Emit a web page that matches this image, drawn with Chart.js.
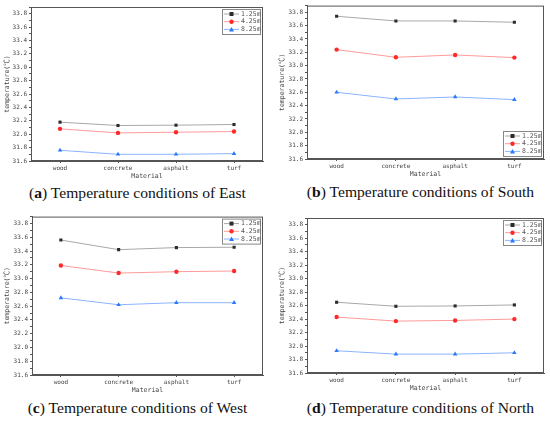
<!DOCTYPE html>
<html>
<head>
<meta charset="utf-8">
<script src="https://cdn.jsdelivr.net/npm/chart.js@4/dist/chart.umd.min.js"></script>
<style>
  body { margin: 0; background: #fff; width: 550px; height: 422px; position: relative; overflow: hidden; }
  canvas { position: absolute; }
  .cap { position: absolute; width: 275px; text-align: center; font-family: "Liberation Serif", serif; font-size: 15.6px; color: #111; white-space: nowrap; }
</style>
</head>
<body>
<canvas id="east" style="left:0;top:0"></canvas>
<canvas id="south" style="left:275px;top:0"></canvas>
<canvas id="west" style="left:0;top:211px"></canvas>
<canvas id="north" style="left:275px;top:211px"></canvas>
<div class="cap" style="left:0;top:184px">(<b>a</b>) Temperature conditions of East</div>
<div class="cap" style="left:283px;top:183px">(<b>b</b>) Temperature conditions of South</div>
<div class="cap" style="left:0;top:399px">(<b>c</b>) Temperature conditions of West</div>
<div class="cap" style="left:283px;top:399px">(<b>d</b>) Temperature conditions of North</div>
<script>
const materials = ["wood", "concrete", "asphalt", "turf"];
const heights = ["1.25m", "4.25m", "8.25m"];

// temperatures (℃), one array per height
const east125 = [32.18, 32.13, 32.135, 32.145];
const east425 = [32.08, 32.02, 32.03, 32.04];
const east825 = [31.76, 31.70, 31.70, 31.71];

const south125 = [33.74, 33.67, 33.67, 33.65];
const south425 = [33.24, 33.125, 33.16, 33.12];
const south825 = [32.60, 32.50, 32.53, 32.49];

const west125 = [33.56, 33.42, 33.45, 33.455];
const west425 = [33.19, 33.08, 33.10, 33.11];
const west825 = [32.72, 32.62, 32.65, 32.65];

const north125 = [32.65, 32.59, 32.595, 32.61];
const north425 = [32.43, 32.37, 32.38, 32.40];
const north825 = [31.93, 31.88, 31.88, 31.90];

const yMin = 31.6, yMax = 33.9;

const smallFont = { family: "'DejaVu Sans Mono', 'Noto Sans CJK SC', monospace", size: 6 };
const markerColors = ["#2b2b2b", "#ff2a2a", "#2a78ff"];
const lineColors = ["#a8a8a8", "#ff9a9a", "#8ab4ff"];
const shapes = ["rect", "circle", "triangle"];

// frame around the plot plus a boxed legend like the original figure
const framePlugin = {
    id: "frame",
    afterDraw(chart, args, opts) {
        const ctx = chart.ctx;
        const a = chart.chartArea;
        ctx.save();
        ctx.strokeStyle = "#555";
        ctx.lineWidth = 1;
        ctx.strokeRect(a.left + 0.5, a.top + 0.5, a.right - a.left - 1, a.bottom - a.top - 1);

        // legend box
        const bw = 38, bh = 25;
        const bx = a.right - 3 - bw;
        const by = opts.legendBottom ? a.bottom - 3 - bh : a.top + 2;
        ctx.fillStyle = "#fff";
        ctx.fillRect(bx, by, bw, bh);
        ctx.strokeStyle = "#888";
        ctx.strokeRect(bx + 0.5, by + 0.5, bw, bh);
        ctx.font = "6.5px 'DejaVu Sans Mono', monospace";
        ctx.textBaseline = "middle";
        chart.data.datasets.forEach((ds, i) => {
            const y = by + 5 + i * 7.7;
            ctx.strokeStyle = ds.borderColor;
            ctx.beginPath();
            ctx.moveTo(bx + 2, y);
            ctx.lineTo(bx + 17, y);
            ctx.stroke();
            ctx.fillStyle = ds.pointBackgroundColor;
            if (i === 0) ctx.fillRect(bx + 7.5, y - 2, 4, 4);
            else if (i === 1) { ctx.beginPath(); ctx.arc(bx + 9.5, y, 2.2, 0, Math.PI * 2); ctx.fill(); }
            else { ctx.beginPath(); ctx.moveTo(bx + 9.5, y - 2.5); ctx.lineTo(bx + 12, y + 2); ctx.lineTo(bx + 7, y + 2); ctx.closePath(); ctx.fill(); }
            ctx.fillStyle = "#555";
            ctx.fillText(ds.label, bx + 19, y);
        });
        ctx.restore();
    }
};

function makeChart(id, series, area, legendBottom) {
    const W = 275, xH = 19, H = area.bottom + xH;
    const canvas = document.getElementById(id);
    canvas.width = W;
    canvas.height = H;
    return new Chart(canvas, {
        type: "line",
        data: {
            labels: materials,
            datasets: series.map((vals, i) => ({
                label: heights[i],
                data: vals,
                borderColor: lineColors[i],
                borderWidth: 1,
                pointStyle: shapes[i],
                pointRadius: i === 2 ? 2.6 : 2.2,
                pointBackgroundColor: markerColors[i],
                pointBorderColor: markerColors[i],
                pointBorderWidth: 0,
                tension: 0
            }))
        },
        options: {
            responsive: false,
            animation: false,
            layout: { padding: { top: area.top, right: W - area.right, left: 3, bottom: 0 } },
            plugins: {
                legend: { display: false },
                tooltip: { enabled: false },
                frame: { legendBottom: legendBottom }
            },
            scales: {
                x: {
                    offset: true,
                    afterFit: s => { s.height = xH; },
                    grid: { display: true, drawOnChartArea: false, offset: false, tickLength: 2, color: "#555" },
                    border: { color: "#555" },
                    ticks: { font: smallFont, color: "#444", padding: 2, maxRotation: 0 },
                    title: { display: true, text: "Material", font: { ...smallFont, size: 6.5 }, color: "#444", padding: { top: 0, bottom: 0 } }
                },
                y: {
                    min: yMin,
                    max: yMax,
                    afterFit: s => { s.width = area.left - 3; },
                    grid: { display: true, drawOnChartArea: false, tickLength: 2, color: "#555" },
                    border: { color: "#555" },
                    ticks: {
                        stepSize: 0.1,
                        autoSkip: false,
                        font: smallFont,
                        color: "#444",
                        padding: 2,
                        callback: v => {
                            const k = Math.round(v * 10);
                            return (k % 2 === 0 && Math.abs(v * 10 - k) < 1e-6) ? v.toFixed(1) : "";
                        }
                    },
                    title: { display: true, text: "temperature(℃)", font: { ...smallFont, size: 6.5 }, color: "#444", padding: { top: 0, bottom: 1 } }
                }
            }
        },
        plugins: [framePlugin]
    });
}

makeChart("east", [east125, east425, east825], { left: 31, top: 7, right: 263, bottom: 161 }, false);
makeChart("south", [south125, south425, south825], { left: 32, top: 5, right: 269, bottom: 159 }, true);
makeChart("west", [west125, west425, west825], { left: 32, top: 5, right: 263, bottom: 164 }, false);
makeChart("north", [north125, north425, north825], { left: 32, top: 7, right: 269, bottom: 162 }, false);
</script>
</body>
</html>
